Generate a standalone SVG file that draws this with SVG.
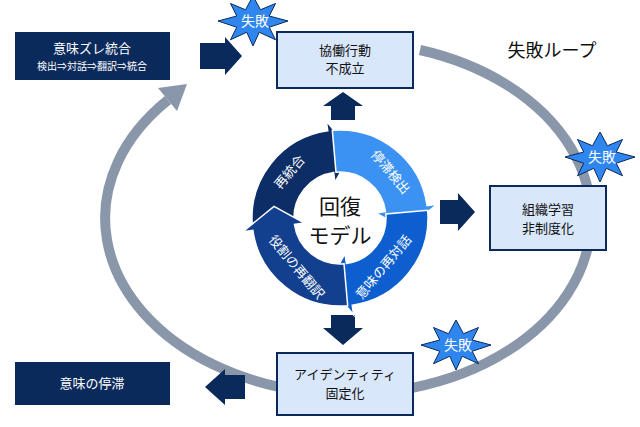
<svg xmlns="http://www.w3.org/2000/svg" width="640" height="427" viewBox="0 0 640 427">
<style>
text{font-family:"Noto Sans CJK JP","Noto Sans",sans-serif;text-anchor:middle}
.lb{fill:#d9e7fb;stroke:#0b2a5c;stroke-width:2}
.nv{fill:#0b2a5c}
.bt{font-size:13px;fill:#111}
.wt{fill:#fff}
.star{fill:#2f86ee;stroke:#0b2a5c;stroke-width:0.8}
</style>
<defs>
<path id="seg" d="M-87.67,7.67 A88,88 0 0 1 -12.25,-87.14 L-13.64,-97.05 L11.63,-65.98 L-5.01,-35.65 L-6.40,-45.55 A46,46 0 0 0 -45.82,4.01 Z" stroke="#fff" stroke-width="1.5"/>
<polygon id="star" points="0,-20 6,-9 18,-14 13,-4 28,0 13,5 18,15 5,9 0,20 -5,9 -18,15 -13,5 -28,0 -13,-4 -18,-14 -6,-9"/>
</defs>
<g id="connectors">
<path d="M168,100 A243,176 0 1 0 420,50" fill="none" stroke="#8a97ab" stroke-width="10"/>
<polygon points="187,84 177,111 158,88" fill="#8a97ab"/>
<polygon class="nv" points="200,43 225,43 225,37 242,56 225,75 225,69 200,69"/>
<polygon class="nv" points="331,120 331,106 323,106 343,92 363,106 355,106 355,120"/>
<polygon class="nv" points="440,200 458,200 458,193 475,212 458,231 458,224 440,224"/>
<polygon class="nv" points="331,315 355,315 355,328 363,328 343,345 323,328 331,328"/>
<polygon class="nv" points="245,375 225,375 225,369 205,387 225,405 225,399 245,399"/>
</g>
<g id="cycle" transform="translate(340,218)">
<use href="#seg" fill="#0c2d66"/>
<use href="#seg" fill="#3b92f2" transform="rotate(90)"/>
<use href="#seg" fill="#0d5fcf" transform="rotate(180)"/>
<use href="#seg" fill="#123f8e" transform="rotate(270)"/>
</g>
<g id="cycle-labels" font-size="13" class="wt">
<text class="wt" transform="translate(293,175) rotate(-50)">再統合</text>
<text class="wt" transform="translate(387,175) rotate(50)">停滞検出</text>
<text class="wt" transform="translate(387,270) rotate(-50)">意味の再対話</text>
<text class="wt" transform="translate(293,270) rotate(50)">役割の再翻訳</text>
<text x="340" y="214" font-size="21" fill="#111">回復</text>
<text x="340" y="243" font-size="21" fill="#111">モデル</text>
</g>
<g id="n-merge"><rect class="nv" x="15" y="32" width="155" height="48"/>
<text class="wt" x="92" y="53" font-size="13">意味ズレ統合</text>
<text class="wt" x="92" y="70" font-size="10">検出⇒対話⇒翻訳⇒統合</text></g>
<g id="n-stall"><rect class="nv" x="15" y="362" width="155" height="43"/>
<text class="wt" x="92" y="388" font-size="13">意味の停滞</text></g>
<g id="n-coop"><rect class="lb" x="277" y="32" width="136" height="56"/>
<text class="bt" x="345" y="55">協働行動</text><text class="bt" x="345" y="73">不成立</text></g>
<g id="n-learn"><rect class="lb" x="490" y="186" width="116" height="64"/>
<text class="bt" x="548" y="214">組織学習</text><text class="bt" x="548" y="233">非制度化</text></g>
<g id="n-ident"><rect class="lb" x="277" y="353" width="136" height="62"/>
<text class="bt" x="345" y="379">アイデンティティ</text><text class="bt" x="345" y="398">固定化</text></g>
<g id="fails">
<use href="#star" class="star" transform="translate(253,21) scale(1.25)"/><text class="wt" x="255" y="26" font-size="14">失敗</text>
<use href="#star" class="star" transform="translate(600,157) scale(1.25)"/><text class="wt" x="602" y="162" font-size="14">失敗</text>
<use href="#star" class="star" transform="translate(456,345) scale(1.25)"/><text class="wt" x="458" y="350" font-size="14">失敗</text>
</g>
<text x="552" y="57" font-size="18" fill="#111">失敗ループ</text>
</svg>
